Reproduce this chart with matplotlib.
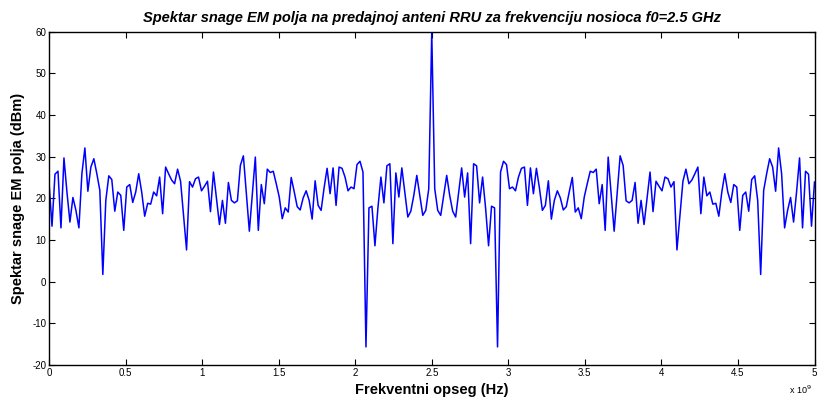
import numpy as np
import matplotlib
matplotlib.use("Agg")
import matplotlib.pyplot as plt

# Spectrum values (dBm); 257 samples across 0..5 GHz
power_dbm = [
    23.9, 13.3, 25.8, 26.5, 12.9, 29.7, 21.5, 14.3, 20.2, 17.1,
    12.9, 25.9, 32.1, 21.7, 27.5, 29.5, 25.9, 21.9, 1.7, 19.5,
    25.4, 24.5, 16.9, 21.5, 20.7, 12.3, 22.7, 23.3, 19.0, 21.5,
    25.9, 21.5, 15.7, 18.8, 18.6, 21.5, 20.6, 25.1, 16.3, 27.5,
    25.9, 24.4, 23.5, 27.0, 24.1, 15.9, 7.6, 24.0, 22.7, 24.7,
    25.1, 21.8, 22.9, 24.1, 16.8, 26.3, 20.1, 13.7, 19.5, 14.0,
    23.8, 19.5, 18.9, 19.4, 27.9, 30.2, 21.0, 12.1, 21.0, 29.9,
    12.3, 23.3, 18.7, 27.0, 26.2, 26.5, 23.5, 20.3, 15.1, 17.7,
    16.7, 25.0, 21.6, 18.0, 17.2, 20.1, 21.8, 19.5, 15.0, 24.2,
    18.3, 17.1, 22.5, 27.2, 21.1, 27.3, 18.3, 27.5, 27.2, 25.1,
    21.8, 22.7, 22.3, 28.1, 28.9, 26.3, -15.7, 17.7, 18.1, 8.6,
    17.7, 25.1, 18.9, 27.8, 28.3, 9.1, 26.1, 20.3, 27.3, 21.5,
    15.5, 16.9, 20.7, 25.5, 20.7, 15.9, 17.1, 22.3,
    59.8,
    22.3, 17.1, 15.9, 20.7, 25.5, 20.7, 16.9, 15.5,
    21.5, 27.3, 20.3, 26.1, 9.1, 28.3, 27.8, 18.9, 25.1, 17.7,
    8.6, 18.1, 17.7, -15.7, 26.3, 28.9, 28.1, 22.3, 22.7, 21.8,
    25.1, 27.2, 27.5, 18.3, 27.3, 21.1, 27.2, 22.5, 17.1, 18.3,
    24.2, 15.0, 19.5, 21.8, 20.1, 17.2, 18.0, 21.6, 25.0, 16.7,
    17.7, 15.1, 20.3, 23.5, 26.5, 26.2, 27.0, 18.7, 23.3, 12.3,
    29.9, 21.0, 12.1, 21.0, 30.2, 27.9, 19.4, 18.9, 19.5, 23.8,
    14.0, 19.5, 13.7, 20.1, 26.3, 16.8, 24.1, 22.9, 21.8, 25.1,
    24.7, 22.7, 24.0, 7.6, 15.9, 24.1, 27.0, 23.5, 24.4, 25.9,
    27.5, 16.3, 25.1, 20.6, 21.5, 18.6, 18.8, 15.7, 21.5, 25.9,
    21.5, 19.0, 23.3, 22.7, 12.3, 20.7, 21.5, 16.9, 24.5, 25.4,
    19.5, 1.7, 21.9, 25.9, 29.5, 27.5, 21.7, 32.1, 25.9, 12.9,
    17.1, 20.2, 14.3, 21.5, 29.7, 12.9, 26.5, 25.8, 13.3, 23.9,
]
freq_hz = np.linspace(0, 5e9, len(power_dbm))

x_ticks = [0, 0.5e9, 1e9, 1.5e9, 2e9, 2.5e9, 3e9, 3.5e9, 4e9, 4.5e9, 5e9]
x_tick_labels = ["0", "0.5", "1", "1.5", "2", "2.5", "3", "3.5", "4", "4.5", "5"]
y_ticks = [-20, -10, 0, 10, 20, 30, 40, 50, 60]

title = "Spektar snage EM polja na predajnoj anteni RRU za frekvenciju nosioca f0=2.5 GHz"
xlabel = "Frekventni opseg (Hz)"
ylabel = "Spektar snage EM polja (dBm)"

plt.rcParams['font.family'] = ['Liberation Sans', 'DejaVu Sans']
plt.rcParams['axes.unicode_minus'] = False

fig = plt.figure(figsize=(8.18, 3.98), dpi=100)
ax = fig.add_axes([49/818, (398 - 364.8)/398, 765.5/818, 333/398])
ax.plot(freq_hz, power_dbm, color=(0, 0, 1), linewidth=1.1)

ax.set_xlim(0, 5e9)
ax.set_ylim(-20, 60)
ax.set_xticks(x_ticks)
ax.set_xticklabels(x_tick_labels)
ax.set_yticks(y_ticks)
ax.tick_params(direction='in', top=True, right=True, length=4, width=0.8,
               labelsize=7, pad=2, colors='black')
for s in ax.spines.values():
    s.set_linewidth(1.0)

ax.set_title(title, fontsize=10.5, fontweight='bold', fontstyle='italic', pad=7)
ax.set_xlabel(xlabel, fontsize=10.5, fontweight='bold', labelpad=4)
ax.set_ylabel(ylabel, fontsize=10.5, fontweight='bold', labelpad=5)
fig.text(789/818, 1 - 394/398, r"x 10$^9$", fontsize=6.5, ha='left', va='baseline')

fig.savefig("out.png", dpi=100)
